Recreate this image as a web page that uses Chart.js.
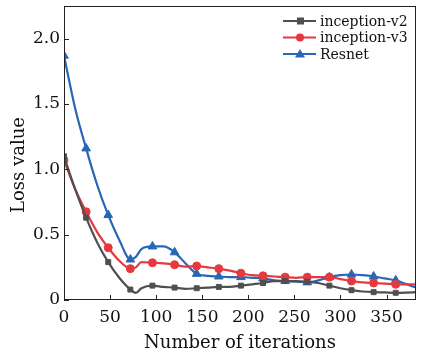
<!DOCTYPE html>
<html>
<head>
<meta charset="utf-8">
<script src="https://cdn.jsdelivr.net/npm/chart.js@4"></script>
<style>
  html, body { margin: 0; padding: 0; background: #fff; }
  #wrap { width: 422px; height: 354px; }
</style>
</head>
<body>
<div id="wrap"><canvas id="lossChart" width="422" height="354"></canvas></div>
<script>
const iterations = [0, 12, 24, 36, 48, 60, 72, 78, 84, 96, 108, 120, 132, 144, 156, 168, 180, 192,
    204, 216, 228, 240, 252, 264, 276, 288, 300, 312, 324, 336, 348, 360, 372, 382];

const inceptionV2 = [1.10, 0.85, 0.63, 0.44, 0.29, 0.17, 0.08, 0.055, 0.09, 0.11, 0.10, 0.095, 0.085, 0.09,
    0.095, 0.10, 0.10, 0.11, 0.12, 0.13, 0.145, 0.145, 0.145, 0.14, 0.13, 0.11, 0.09, 0.075,
    0.065, 0.06, 0.058, 0.055, 0.057, 0.06];
const inceptionV3 = [1.07, 0.85, 0.675, 0.52, 0.40, 0.30, 0.24, 0.25, 0.29, 0.285, 0.28, 0.27, 0.255, 0.26,
    0.25, 0.24, 0.225, 0.205, 0.19, 0.185, 0.18, 0.175, 0.17, 0.175, 0.175, 0.175, 0.16, 0.145,
    0.135, 0.13, 0.125, 0.12, 0.12, 0.12];
const resnet = [1.87, 1.47, 1.16, 0.88, 0.65, 0.46, 0.31, 0.33, 0.39, 0.41, 0.41, 0.365, 0.28, 0.20,
    0.185, 0.18, 0.175, 0.175, 0.17, 0.165, 0.15, 0.145, 0.14, 0.135, 0.15, 0.175, 0.19, 0.195,
    0.19, 0.18, 0.165, 0.15, 0.12, 0.095];

const seriesNames = ["inception-v2", "inception-v3", "Resnet"];
const xTicks = [0, 50, 100, 150, 200, 250, 300, 350];
const yTicks = [0, 0.5, 1.0, 1.5, 2.0];

const FONT = "'DejaVu Serif', 'Liberation Serif', serif";

function toPoints(values) {
    return iterations.map((x, i) => ({ x: x, y: values[i] }));
}

// markers only every 24 iterations
function markerRadius(r) {
    return (ctx) => {
        const p = ctx.raw;
        return p && p.x % 24 === 0 ? r : 0;
    };
}

function makeSet(label, values, color, style, r) {
    return {
        label: label,
        data: toPoints(values),
        borderColor: color,
        backgroundColor: color,
        borderWidth: 2.2,
        cubicInterpolationMode: "monotone",
        pointStyle: style,
        pointRadius: markerRadius(r),
        pointHoverRadius: 0,
        pointBorderWidth: 1,
    };
}

// little legend inside the top right of the plot, no frame
const innerLegend = {
    id: "innerLegend",
    afterDraw(chart) {
        const ctx = chart.ctx;
        ctx.save();
        ctx.font = "14px " + FONT;
        ctx.textBaseline = "middle";
        chart.data.datasets.forEach((ds, i) => {
            const y = 21 + i * 16.5;
            ctx.strokeStyle = ds.borderColor;
            ctx.lineWidth = 2;
            ctx.beginPath();
            ctx.moveTo(283, y);
            ctx.lineTo(316, y);
            ctx.stroke();
            ctx.fillStyle = ds.borderColor;
            ctx.beginPath();
            if (ds.pointStyle === "rect") {
                ctx.rect(297, y - 3.5, 7, 7);
            } else if (ds.pointStyle === "circle") {
                ctx.arc(300, y, 4, 0, Math.PI * 2);
            } else {
                ctx.moveTo(300, y - 5);
                ctx.lineTo(305, y + 3.5);
                ctx.lineTo(295, y + 3.5);
                ctx.closePath();
            }
            ctx.fill();
            ctx.fillStyle = "#111";
            ctx.fillText(ds.label, 320, y + 1);
        });
        ctx.restore();
    },
};

// frame, inward tick marks and the y title (sits a bit below centre in the original)
const frameTicks = {
    id: "frameTicks",
    afterDatasetsDraw(chart) {
        const { ctx, chartArea: a, scales } = chart;
        ctx.save();
        ctx.strokeStyle = "#222";
        ctx.lineWidth = 1;
        ctx.strokeRect(a.left + 0.5, a.top + 0.5, a.right - a.left - 1, a.bottom - a.top - 1);
        ctx.beginPath();
        xTicks.forEach((v) => {
            const px = Math.round(scales.x.getPixelForValue(v)) + 0.5;
            ctx.moveTo(px, a.bottom);
            ctx.lineTo(px, a.bottom - 5);
        });
        yTicks.forEach((v) => {
            const py = Math.round(scales.y.getPixelForValue(v)) + 0.5;
            ctx.moveTo(a.left, py);
            ctx.lineTo(a.left + 5, py);
        });
        ctx.stroke();

        ctx.translate(19, 165);
        ctx.rotate(-Math.PI / 2);
        ctx.font = "18px " + FONT;
        ctx.fillStyle = "#111";
        ctx.textAlign = "center";
        ctx.textBaseline = "middle";
        ctx.fillText("Loss value", 0, 0);
        ctx.restore();
    },
};

document.addEventListener("DOMContentLoaded", () => {
    const ctx = document.getElementById("lossChart").getContext("2d");
    new Chart(ctx, {
        type: "line",
        data: {
            datasets: [
                makeSet(seriesNames[0], inceptionV2, "#4f4f4f", "rect", 3.5),
                makeSet(seriesNames[1], inceptionV3, "#e6393f", "circle", 4),
                makeSet(seriesNames[2], resnet, "#2767b5", "triangle", 5),
            ],
        },
        options: {
            responsive: false,
            animation: false,
            layout: { padding: { top: 6, right: 6, left: 0, bottom: 0 } },
            plugins: {
                legend: { display: false },
                tooltip: { enabled: false },
            },
            scales: {
                x: {
                    type: "linear",
                    min: 0,
                    max: 382,
                    afterBuildTicks: (scale) => {
                        scale.ticks = xTicks.map((v) => ({ value: v }));
                    },
                    afterFit: (scale) => {
                        scale.height = 54;
                        scale.paddingLeft = 0;
                        scale.paddingRight = 0;
                    },
                    grid: { display: false, drawTicks: false },
                    border: { display: false },
                    ticks: {
                        color: "#111",
                        padding: 7,
                        maxRotation: 0,
                        font: { family: FONT, size: 17 },
                    },
                    title: {
                        display: true,
                        text: "Number of iterations",
                        color: "#111",
                        padding: { top: -3, bottom: 0 },
                        font: { family: FONT, size: 18 },
                    },
                },
                y: {
                    min: 0,
                    max: 2.25,
                    afterBuildTicks: (scale) => {
                        scale.ticks = yTicks.map((v) => ({ value: v }));
                    },
                    afterFit: (scale) => {
                        scale.width = 64;
                        scale.paddingTop = 0;
                        scale.paddingBottom = 0;
                    },
                    grid: { display: false, drawTicks: false },
                    border: { display: false },
                    ticks: {
                        color: "#111",
                        padding: 4,
                        font: { family: FONT, size: 17 },
                        callback: (v) => (v === 0 ? "0" : v.toFixed(1)),
                    },
                },
            },
        },
        plugins: [frameTicks, innerLegend],
    });
});
</script>
</body>
</html>
